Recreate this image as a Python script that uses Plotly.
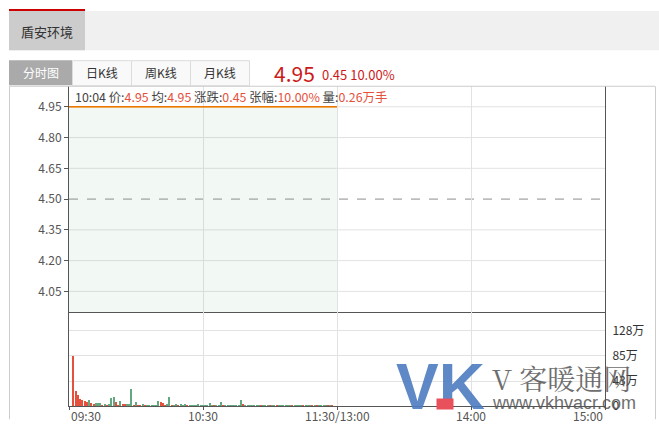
import plotly.graph_objects as go

W, H = 659, 435
YS = 0.981  # empirical vertical correction of the rendered page
def px(x): return x / W
def py(y): return 1 - (y / YS) / H

# ---------------- data ----------------
stock_name = "盾安环境"
prev_close = 4.50
last_price = 4.95
change = 0.45
change_pct = "10.00%"

x_tick_vals = [0, 60, 120, 180, 240]
x_tick_text = ["09:30", "10:30", "11:30/13:00", "14:00", "15:00"]

price_ticks = [4.05, 4.20, 4.35, 4.50, 4.65, 4.80, 4.95]
vol_ticks = [0, 42.67, 85.33, 128]
vol_tick_text = ["0", "43万", "85万", "128万"]

# minutes after 09:30 (morning session only)
minutes = list(range(0, 121))
price = [
    4.95, 4.95, 4.95, 4.95, 4.95, 4.95, 4.95, 4.95, 4.95, 4.95, 4.95,
    4.95, 4.95, 4.95, 4.95, 4.95, 4.95, 4.95, 4.95, 4.95, 4.95, 4.95,
    4.95, 4.95, 4.95, 4.95, 4.95, 4.95, 4.95, 4.95, 4.95, 4.95, 4.95,
    4.95, 4.95, 4.95, 4.95, 4.95, 4.95, 4.95, 4.95, 4.95, 4.95, 4.95,
    4.95, 4.95, 4.95, 4.95, 4.95, 4.95, 4.95, 4.95, 4.95, 4.95, 4.95,
    4.95, 4.95, 4.95, 4.95, 4.95, 4.95, 4.95, 4.95, 4.95, 4.95, 4.95,
    4.95, 4.95, 4.95, 4.95, 4.95, 4.95, 4.95, 4.95, 4.95, 4.95, 4.95,
    4.95, 4.95, 4.95, 4.95, 4.95, 4.95, 4.95, 4.95, 4.95, 4.95, 4.95,
    4.95, 4.95, 4.95, 4.95, 4.95, 4.95, 4.95, 4.95, 4.95, 4.95, 4.95,
    4.95, 4.95, 4.95, 4.95, 4.95, 4.95, 4.95, 4.95, 4.95, 4.95, 4.95,
    4.95, 4.95, 4.95, 4.95, 4.95, 4.95, 4.95, 4.95, 4.95, 4.95, 4.95,
]

vol_minutes = list(range(2, 121))
volume = [  # 万
    85, 25.6, 19, 12, 10, 8.5, 7, 10, 5, 3.4,
    5, 5, 5, 1.7, 3.4, 1.7, 3.4, 13.7, 15.4, 6.8,
    1.7, 8.5, 3.4, 3.4, 3.4, 3.4, 29, 1.7, 6.8,
    1.7, 1.7, 3.4, 1.7, 1.7, 1.7, 1.7, 1.7, 1.7, 8.5,
    6.8, 5, 1.7, 3.4, 16, 1.7, 1.7, 3.4, 1.7, 3.4,
    1.7, 3.4, 1.7, 1.7, 1.7, 1.7, 1.7, 4.2,
    1.7, 1.7, 1.7, 1.7, 6.0, 1.7, 1.7, 1.7, 1.7, 7.5,
    2.5, 1.7, 1.7, 1.7, 1.7, 1.7, 1.7, 1.7, 11, 4.2,
    1.7, 1.7, 1.7, 1.7, 1.7, 1.7, 1.7, 1.7, 1.7, 1.7,
    1.7, 1.7, 1.7, 1.7, 1.7, 1.7, 1.7, 1.7, 1.7, 1.7,
    1.7, 1.7, 1.7, 1.7, 1.7, 1.7, 1.7, 1.7, 1.7, 1.7,
    1.7, 1.7, 1.7, 1.7, 1.7, 1.7, 1.7, 1.7, 1.7, 1.7,
]
# u = price up tick (red), d = down tick (green)
vol_dir = list(
    "uuuuuuu" "d" "uu" "ddd" "u" "d" "u" "ddd" "uu" "d" "uu" "ddd" "u" "d"
    "uu" "d" "u" "ddddd" "d" "uu" "u" "d" "d" "u" "dd" "u" "d" "dd" "u" "ddddd"
    "dddd" "d" "d" "u" "dd" "d" "u" "ddddddd" "d" "u" "ddddddd" "u" "ddd" "u" "dd" "u"
    "dddddd" "u" "dddd" "u" "ddd" "u" "d" "u" "dddd" "u" "d" "u" "d" "u"
)

UP, DOWN = "#e4513c", "#62a880"
vol_colors = [UP if d == "u" else DOWN for d in vol_dir[:len(volume)]]
while len(vol_colors) < len(volume):
    vol_colors.append(DOWN)

# ---------------- figure ----------------
fig = go.Figure()

fig.add_trace(go.Scatter(
    x=minutes, y=price, mode="lines", line=dict(color="#f0a000", width=1),
    xaxis="x", yaxis="y", hoverinfo="skip"))
fig.add_trace(go.Scatter(
    x=minutes, y=price, mode="lines", line=dict(color="#f07800", width=1.5),
    fill="tozeroy", fillcolor="rgba(110,175,130,0.09)",
    xaxis="x", yaxis="y", hoverinfo="skip"))
fig.add_trace(go.Bar(
    x=vol_minutes, y=volume, marker=dict(color=vol_colors, line=dict(width=0)),
    width=0.5, xaxis="x2", yaxis="y2", hoverinfo="skip"))

xd = [px(69), px(605)]
price_dom = [py(311), py(86)]
vol_dom = [py(405), py(311)]

y_lo = prev_close - 0.55
y_hi = prev_close + 0.55
pct_vals = [(p - prev_close) / prev_close * 100 for p in price_ticks]

def pct_label(v):
    c = "#e4513c" if v > 0.001 else ("#5ba47b" if v < -0.001 else "#999999")
    return f'<span style="color:{c}">{abs(v):.2f}%</span>'

font_family = "Noto Sans CJK SC, Noto Sans, sans-serif"

fig.update_layout(
    width=W, height=H, margin=dict(l=0, r=0, t=0, b=0),
    paper_bgcolor="white", plot_bgcolor="rgba(0,0,0,0)",
    showlegend=False, bargap=0,
    font=dict(family=font_family, size=12, color="#555555"),
    xaxis=dict(domain=xd, range=[0, 240], anchor="y", tickvals=x_tick_vals,
               showticklabels=False, ticks="", showgrid=True, gridcolor="#e2e2e2",
               gridwidth=1, showline=True, linecolor="#555555", linewidth=1,
               zeroline=False, fixedrange=True),
    yaxis=dict(domain=price_dom, range=[y_lo, y_hi], anchor="x",
               tickvals=price_ticks, ticktext=[f"{p:.2f}" for p in price_ticks],
               ticks="outside", ticklen=4, tickcolor="#555555",
               showgrid=False, showline=True, linecolor="#555555", linewidth=1,
               mirror=True, zeroline=False,
               tickfont=dict(size=12, color="#555555")),
    yaxis3=dict(overlaying="y", side="right", anchor="x",
                range=[(y_lo - prev_close) / prev_close * 100,
                       (y_hi - prev_close) / prev_close * 100],
                tickvals=pct_vals, ticktext=[pct_label(v) for v in pct_vals],
                ticks="", ticklabelstandoff=4, showgrid=False, zeroline=False,
                showline=False, tickfont=dict(size=12)),
    xaxis2=dict(domain=xd, range=[0, 240], anchor="y2", tickvals=x_tick_vals,
                showticklabels=False, ticks="outside", ticklen=3,
                tickcolor="#555555", showgrid=True, gridcolor="#e2e2e2",
                showline=True, linecolor="#555555", linewidth=1, zeroline=False),
    yaxis2=dict(domain=vol_dom, range=[0, 160], anchor="x2", side="right",
                tickvals=vol_ticks, ticktext=vol_tick_text, ticks="",
                ticklabelstandoff=4, showgrid=True, gridcolor="#e2e2e2",
                showline=True, linecolor="#555555", linewidth=1, mirror=True,
                zeroline=False, tickfont=dict(size=12, color="#333333")),
)

shapes = []
for p in price_ticks:
    if abs(p - prev_close) < 1e-9:
        shapes.append(dict(type="line", xref="x domain", yref="y", x0=0, x1=1,
                           y0=p, y1=p, line=dict(color="#8c8c8c", width=1, dash="dash"),
                           layer="below"))
    else:
        shapes.append(dict(type="line", xref="x domain", yref="y", x0=0, x1=1,
                           y0=p, y1=p, line=dict(color="#e2e2e2", width=1),
                           layer="below"))

# page chrome
shapes += [
    dict(type="rect", xref="paper", yref="paper", x0=px(9), x1=px(659),
         y0=py(50), y1=py(11), fillcolor="#f0f0f0", line=dict(width=0), layer="below"),
    dict(type="rect", xref="paper", yref="paper", x0=px(9), x1=px(85),
         y0=py(50), y1=py(11), fillcolor="#cccccc", line=dict(width=0), layer="below"),
    dict(type="rect", xref="paper", yref="paper", x0=px(9), x1=px(85),
         y0=py(11), y1=py(9), fillcolor="#cc0000", line=dict(width=0), layer="below"),
    dict(type="rect", xref="paper", yref="paper", x0=px(9), x1=px(72),
         y0=py(85), y1=py(60), fillcolor="#aaaaaa", line=dict(width=0), layer="below"),
]
for a, b in [(72, 131), (131, 190), (190, 249)]:
    shapes.append(dict(type="rect", xref="paper", yref="paper", x0=px(a + 0.5), x1=px(b + 0.5),
                       y0=py(85.5), y1=py(60.5), fillcolor="#f9f9f9",
                       line=dict(color="#dcdcdc", width=1), layer="below"))
shapes += [
    dict(type="line", xref="paper", yref="paper", x0=px(9), x1=px(655),
         y0=py(86), y1=py(86), line=dict(color="#cccccc", width=1)),
    dict(type="line", xref="paper", yref="paper", x0=px(9.5), x1=px(9.5),
         y0=py(86), y1=py(418), line=dict(color="#cccccc", width=1)),
    dict(type="line", xref="paper", yref="paper", x0=px(655.5), x1=px(655.5),
         y0=py(86), y1=py(418), line=dict(color="#cccccc", width=1)),
]
fig.update_layout(shapes=shapes)

ann = []
for i, (v, t) in enumerate(zip(x_tick_vals, x_tick_text)):
    anchor = "left" if i == 0 else ("right" if i == len(x_tick_vals) - 1 else "center")
    ann.append(dict(x=v, xref="x2", y=py(414), yref="paper", text=t, showarrow=False,
                    xanchor=anchor, yanchor="middle", font=dict(size=12, color="#555555")))

R = "#e4513c"
info = (f'10:04 价:<span style="color:{R}">{last_price:.2f}</span> '
        f'均:<span style="color:{R}">{last_price:.2f}</span> '
        f'涨跌:<span style="color:{R}">{change:.2f}</span> '
        f'张幅:<span style="color:{R}">{change_pct}</span> '
        f'量:<span style="color:{R}">0.26万手</span>')
ann += [
    dict(x=px(73), y=py(97), xref="paper", yref="paper", text=info, showarrow=False,
         xanchor="left", yanchor="middle", font=dict(size=12.4, color="#444444")),
    dict(x=px(47), y=py(31), xref="paper", yref="paper", text=stock_name, showarrow=False,
         xanchor="center", yanchor="middle", font=dict(size=13, color="#333333")),
    dict(x=px(40.5), y=py(72.5), xref="paper", yref="paper", text="分时图", showarrow=False,
         xanchor="center", yanchor="middle", font=dict(size=12, color="white")),
    dict(x=px(102), y=py(72.5), xref="paper", yref="paper", text="日K线", showarrow=False,
         xanchor="center", yanchor="middle", font=dict(size=12, color="#333333")),
    dict(x=px(161), y=py(72.5), xref="paper", yref="paper", text="周K线", showarrow=False,
         xanchor="center", yanchor="middle", font=dict(size=12, color="#333333")),
    dict(x=px(220), y=py(72.5), xref="paper", yref="paper", text="月K线", showarrow=False,
         xanchor="center", yanchor="middle", font=dict(size=12, color="#333333")),
    dict(x=px(272), y=py(73), xref="paper", yref="paper", text=f"{last_price:.2f}",
         showarrow=False, xanchor="left", yanchor="middle",
         font=dict(size=21, color="#cc1a1a")),
    dict(x=px(320), y=py(74), xref="paper", yref="paper",
         text=f"{change:.2f} {change_pct}", showarrow=False, xanchor="left",
         yanchor="middle", font=dict(size=13, color="#cc1a1a")),
    # watermark
    dict(x=px(440), y=py(386), xref="paper", yref="paper", text="<b>VK</b>",
         showarrow=False, xanchor="center", yanchor="middle", opacity=0.9,
         font=dict(size=64, color="#4e7cc0", family="Liberation Sans, Arial")),
    dict(x=px(445), y=py(403), xref="paper", yref="paper", text=" ", showarrow=False,
         bgcolor="#e8505b", width=16, height=10, borderpad=0, xanchor="center",
         yanchor="middle"),
    dict(x=px(490), y=py(377), xref="paper", yref="paper", text="V 客暖通网",
         showarrow=False, xanchor="left", yanchor="middle", opacity=0.85,
         font=dict(size=28, color="#555555", family="Noto Serif CJK SC, Liberation Serif, serif")),
    dict(x=px(490), y=py(402), xref="paper", yref="paper", text="www.vkhvacr.com",
         showarrow=False, xanchor="left", yanchor="middle", opacity=0.85,
         font=dict(size=18, color="#555555", family="Liberation Sans, Arial")),
]
fig.update_layout(annotations=ann)

fig.write_html(
    "out.html",
    config={"displayModeBar": False},
    post_script="document.body.style.margin='0';document.body.style.overflow='hidden';",
)
